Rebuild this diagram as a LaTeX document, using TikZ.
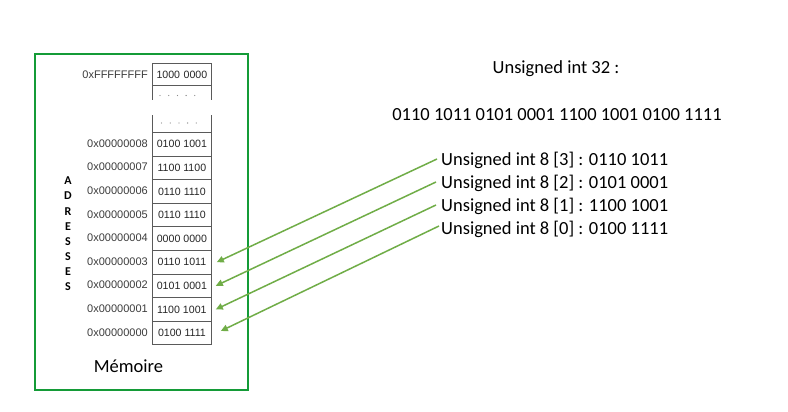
\documentclass[tikz,border=0pt]{standalone}
\usepackage{fontspec}
\setmainfont{Carlito}
\newfontfamily\arialf{Liberation Sans}
\usetikzlibrary{arrows.meta,calc}
\definecolor{framegreen}{RGB}{20,155,55}
\definecolor{arrowgreen}{RGB}{112,173,71}
\definecolor{cellgray}{RGB}{90,90,90}
\definecolor{addrgray}{RGB}{60,60,60}
\begin{document}
\begin{tikzpicture}[x=1pt,y=-1pt,
  cell/.style={draw=cellgray,line width=0.8pt,minimum width=59pt,minimum height=23.6pt,inner sep=0pt,
    font=\arialf\fontsize{10.6}{12}\selectfont,text=black!85,anchor=north west},
  addr/.style={font=\arialf\fontsize{11}{13}\selectfont,text=addrgray,anchor=east,inner sep=0pt},
  txt/.style={font=\fontsize{18.5}{22}\selectfont,inner sep=0pt},
  lbl/.style={font=\bfseries\fontsize{12}{14}\selectfont,inner sep=0pt},
  dotmark/.style={fill=black!45,draw=none,circle,inner sep=0pt,minimum size=1.3pt},
  link/.style={draw=arrowgreen,line width=1.5pt,-{Triangle[length=7pt,width=6.5pt]}}]
\useasboundingbox[fill=white] (0,0) rectangle (788,412);
% frame
\node[draw=framegreen,line width=2pt,minimum width=213pt,minimum height=336pt,anchor=north west,inner sep=0pt] (frame) at (34,53) {};
% top memory part
\node[cell,minimum height=22pt] (cff) at (152,63) {1000\,\,0000};
\draw[cellgray,line width=0.8pt] (cff.south west) -- ++(0,14.5);
\draw[cellgray,line width=0.8pt] (cff.south east) -- ++(0,14.5);
\foreach \i in {0,...,4}{
  \node[dotmark] (da\i) at (160+8.7*\i,95.5) {};
  \node[dotmark] (db\i) at (161.5+8.7*\i,123) {};
}
\draw[cellgray,line width=0.8pt] (152,132) -- (152,115);
\draw[cellgray,line width=0.8pt] (211,132) -- (211,115);
\node[addr] (aff) at (148,75) {0xFFFFFFFF};
% cells
\foreach \k/\v/\a in {0/0100 1001/8,1/1100 1100/7,2/0110 1110/6,3/0110 1110/5,4/0000 0000/4,5/0110 1011/3,6/0101 0001/2,7/1100 1001/1,8/0100 1111/0}{
  \node[cell] (c\a) at (152,132+23.6*\k) {\v};
  \node[addr] (a\a) at (148,143.5+23.6*\k) {0x0000000\a};
}
% vertical label
\foreach \l [count=\i from 0] in {A,D,R,E,S,S,E,S}{
  \node[lbl] (v\i) at (68,181+15.1*\i) {\l};
}
\node[txt] (mem) at (128.5,366) {Mémoire};
% right texts
\node[txt] (u32) at (556,69) {Unsigned int 32 :};
\node[txt] (bits) at (557,115) {0110 1011 0101 0001 1100 1001 0100 1111};
\node[txt,anchor=west] (t3) at (441,160) {Unsigned int 8 [3] : 0110 1011};
\node[txt,anchor=west] (t2) at (441,183) {Unsigned int 8 [2] : 0101 0001};
\node[txt,anchor=west] (t1) at (441,206) {Unsigned int 8 [1] : 1100 1001};
\node[txt,anchor=west] (t0) at (441,229) {Unsigned int 8 [0] : 0100 1111};
% arrows
\draw[link] ($(t3.west)+(-4,-1)$) -- ($(c3.east)+(5,0)$);
\draw[link] ($(t2.west)+(-5,-1)$) -- ($(c2.east)+(4,0)$);
\draw[link] ($(t1.west)+(-5,-1)$) -- ($(c1.east)+(4,0)$);
\draw[link] ($(t0.west)+(-2,-3)$) -- ($(c0.east)+(9,-2)$);
\end{tikzpicture}
\end{document}
